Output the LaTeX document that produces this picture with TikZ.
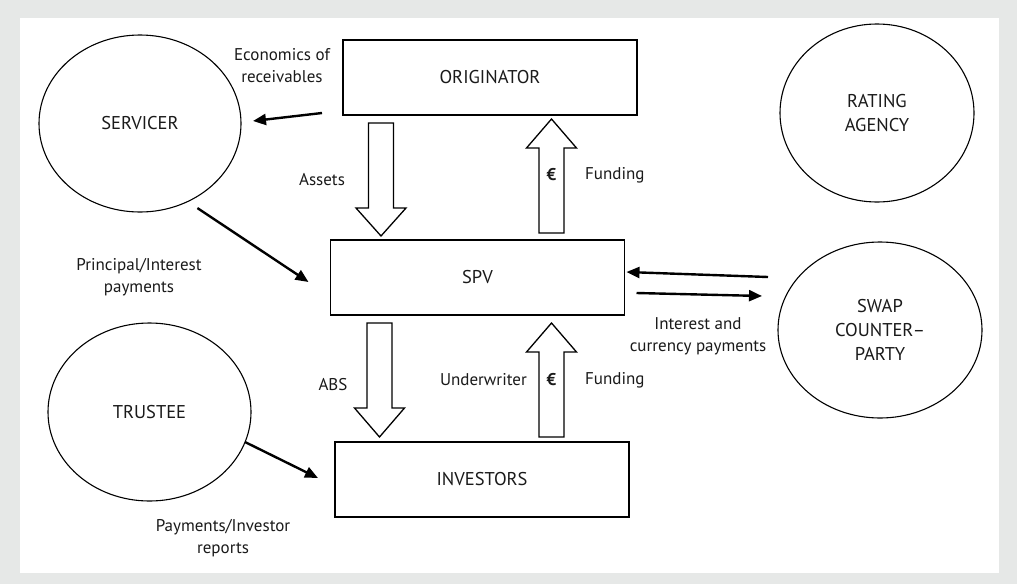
\documentclass[tikz,border=0pt]{standalone}
\usepackage{fontspec}
\setmainfont{PT Sans}
\usetikzlibrary{shapes.geometric, arrows.meta, positioning, calc}
\definecolor{framegray}{HTML}{E6E8E7}
\definecolor{txtgray}{HTML}{1A1A1A}
% hollow block arrow: x centre, shaft end, head base, tip
\newcommand{\fatarrow}[4]{%
  \draw[blockarrow] (#1-12.5,#2) -- (#1+12.5,#2) -- (#1+12.5,#3) -- (#1+25,#3)
    -- (#1,#4) -- (#1-25,#3) -- (#1-12.5,#3) -- cycle;}

\begin{document}
\begin{tikzpicture}[x=1pt, y=-1pt,
  every node/.style={font=\fontsize{17}{22}\selectfont, text=txtgray},
  party/.style={draw, rectangle, line width=1.4pt, minimum width=294pt, minimum height=75pt, inner sep=0pt, outer sep=0pt, font=\fontsize{18.5}{24}\selectfont},
  actor/.style={draw, ellipse, line width=1.1pt, inner sep=0pt, outer sep=0pt, align=center, font=\fontsize{18.5}{24}\selectfont},
  flow/.style={line width=2.4pt, -{Triangle[length=13pt,width=11pt]}},
  blockarrow/.style={draw, line width=1.3pt, fill=white, line join=miter},
  lbl/.style={align=center, inner sep=0pt}]

    % frame
    \fill[framegray] (0,0) rectangle (1017,584);
    \fill[white] (20,18) rectangle (999,573);

    % boxes
    \node[party] (orig) at (490,77.5) {ORIGINATOR};
    \node[party] (spv) at (477.5,277.5) {SPV};
    \node[party] (inv) at (482,479.5) {INVESTORS};

    % parties round the deal
    \node[actor, minimum width=202pt, minimum height=177pt] (serv) at (140,123.5) {SERVICER};
    \node[actor, minimum width=194pt, minimum height=178pt] (rating) at (877,113) {RATING\\AGENCY};
    \node[actor, minimum width=204pt, minimum height=176pt] (swap) at (880,330) {SWAP\\COUNTER--\\PARTY};
    \node[actor, minimum width=203pt, minimum height=178pt] (trustee) at (149.5,412) {TRUSTEE};

    % block arrows
    \fatarrow{381}{123}{208}{236}
    \fatarrow{551.5}{233}{148}{119}
    \fatarrow{379.5}{323}{408}{437}
    \fatarrow{551.5}{437}{352}{323}

    % payment flows
    \draw[flow] ([shift={(-21,-2)}]orig.south west) -- ([shift={(12,-2.5)}]serv.east);
    \draw[flow] ([shift={(-14,22)}]serv.south east) -- ([shift={(-22,4.5)}]spv.west);
    \draw[flow] ([shift={(-10,-53)}]swap.west) -- ([shift={(2,-5.5)}]spv.east);
    \draw[flow] ([shift={(12,15.5)}]spv.east) -- ([shift={(-16,-34)}]swap.west);
    \draw[flow] ([shift={(-6,30)}]trustee.east) -- ([shift={(-17,-1.5)}]inv.west);

    % labels
    \node[lbl] (econ) at (282,66) {Economics of\\receivables};
    \node[lbl] (assets) at (322,180) {Assets};
    \node[lbl, font=\fontsize{17}{22}\bfseries] (euro1) at (551.5,175) {€};
    \node[lbl, anchor=west] (fund1) at (585,175) {Funding};
    \node[lbl] (prin) at (139,277.5) {Principal/Interest\\payments};
    \node[lbl] (intcur) at (698,336) {Interest and\\currency payments};
    \node[lbl] (abs) at (333,385) {ABS};
    \node[lbl, anchor=east] (under) at (527,380) {Underwriter};
    \node[lbl, font=\fontsize{17}{22}\bfseries] (euro2) at (551.5,380) {€};
    \node[lbl, anchor=west] (fund2) at (585,380) {Funding};
    \node[lbl] (payrep) at (223,538) {Payments/Investor\\reports};
\end{tikzpicture}
\end{document}
